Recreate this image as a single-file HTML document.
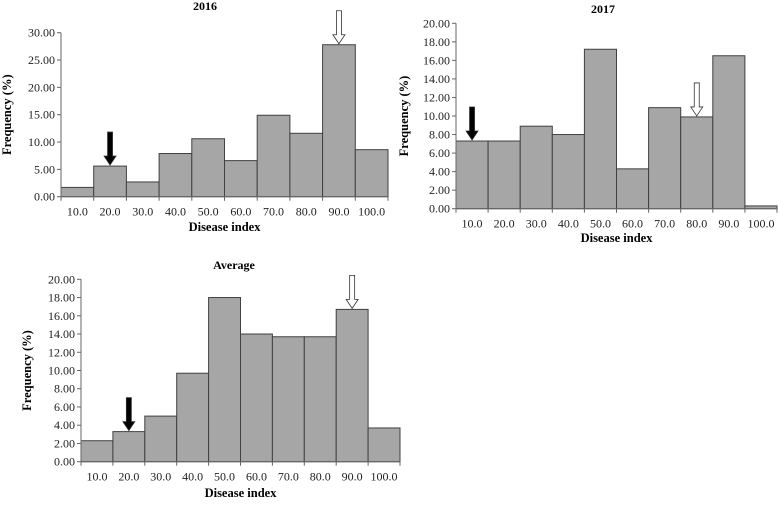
<!DOCTYPE html>
<html><head><meta charset="utf-8"><style>
body{margin:0;background:#fff;width:778px;height:500px;overflow:hidden}
svg{font-family:"Liberation Serif",serif}
</style></head><body>
<svg id="s" width="778" height="500"></svg>
<script>
const categories=["10.0","20.0","30.0","40.0","50.0","60.0","70.0","80.0","90.0","100.0"];
const values2016=[1.7,5.6,2.7,7.9,10.6,6.6,14.9,11.6,27.8,8.6];
const values2017=[7.3,7.3,8.9,8.0,17.2,4.3,10.9,9.9,16.5,0.3];
const valuesAvg=[2.3,3.3,5.0,9.7,18.0,14.0,13.7,13.7,16.7,3.7];
const ticks2016=[0,5,10,15,20,25,30];
const ticks2017=[0,2,4,6,8,10,12,14,16,18,20];
const ticksAvg=[0,2,4,6,8,10,12,14,16,18,20];
const svg=document.getElementById('s');
const NS='http://www.w3.org/2000/svg';
function el(t,a,p){const e=document.createElementNS(NS,t);for(const k in a)e.setAttribute(k,a[k]);(p||svg).appendChild(e);return e;}
function chart(cfg){
  const g=el('g',{});
  
  
  const max=cfg.ticks[cfg.ticks.length-1];
  const y=v=>cfg.y0-(cfg.y0-cfg.yTop)*v/max;
  const bw=(cfg.x1-cfg.x0)/cfg.vals.length;
  const x=i=>cfg.x0+i*bw;
  cfg.vals.forEach((v,i)=>{
    const r=el('rect',{x:x(i),y:y(v),width:bw,height:cfg.y0-y(v),fill:'#a6a6a6',stroke:'#404040','stroke-width':1},g);
    
    
    const t=el('text',{x:x(i)+bw/2,y:cfg.y0+19,'font-size':12,'text-anchor':'middle',fill:'#222'},g);
    t.textContent=categories[i];
    
    
    el('line',{x1:x(i),x2:x(i),y1:cfg.y0,y2:cfg.y0+4,stroke:'#666'},g);
  });
  el('line',{x1:cfg.x1,x2:cfg.x1,y1:cfg.y0,y2:cfg.y0+4,stroke:'#666'},g);
  el('line',{x1:cfg.x0,x2:cfg.x1,y1:cfg.y0,y2:cfg.y0,stroke:'#666'},g);
  el('line',{x1:cfg.x0,x2:cfg.x0,y1:cfg.y0,y2:cfg.yTop,stroke:'#666'},g);
  cfg.ticks.forEach(v=>{
    el('line',{x1:cfg.x0-4,x2:cfg.x0,y1:y(v),y2:y(v),stroke:'#666'},g);
    const t=el('text',{x:cfg.x0-6,y:y(v)+4,'font-size':12,'text-anchor':'end',fill:'#222'},g);
    t.textContent=v.toFixed(2);
    
    
  });
  const ti=el('text',{x:cfg.tx,y:cfg.ty,'font-size':12,'font-weight':'bold','text-anchor':'middle'},g);
  ti.textContent=cfg.title;
  
  
  const xt=el('text',{x:(cfg.x0+cfg.x1)/2,y:cfg.xty,'font-size':12.5,'font-weight':'bold','text-anchor':'middle'},g);
  xt.textContent='Disease index';
  
  
  const yl=el('text',{x:0,y:0,'font-size':12.5,'font-weight':'bold','text-anchor':'middle',transform:`translate(${cfg.ylx},${(cfg.y0+cfg.yTop)/2}) rotate(-90)`},g);
  yl.textContent='Frequency (%)';
  
  
  // arrows
  [[cfg.black,'#000'],[cfg.white,'#fff']].forEach(([i,f])=>{
    const cx=x(i)+bw/2, tip=y(cfg.vals[i])-1, top=tip-cfg.alen;
    const p=el('path',{d:`M${cx-2.5},${top} L${cx+2.5},${top} L${cx+2.5},${tip-9} L${cx+6},${tip-9} L${cx},${tip} L${cx-6},${tip-9} L${cx-2.5},${tip-9} Z`,fill:f,stroke:'#333','stroke-width':0.8},g);
    
    
  });
}
chart({name:'chart-2016',vals:values2016,ticks:ticks2016,x0:61,x1:388,y0:196.7,yTop:32.7,title:'2016',tx:205,ty:10,xty:231,ylx:11,black:1,white:8,alen:33});
chart({name:'chart-2017',vals:values2017,ticks:ticks2017,x0:456,x1:777,y0:208.7,yTop:23.3,title:'2017',tx:603,ty:13,xty:242,ylx:408,black:0,white:7,alen:33});
chart({name:'chart-average',vals:valuesAvg,ticks:ticksAvg,x0:81,x1:400,y0:461.7,yTop:279.3,title:'Average',tx:234,ty:269,xty:497,ylx:31,black:1,white:8,alen:33});
</script>
</body></html>
